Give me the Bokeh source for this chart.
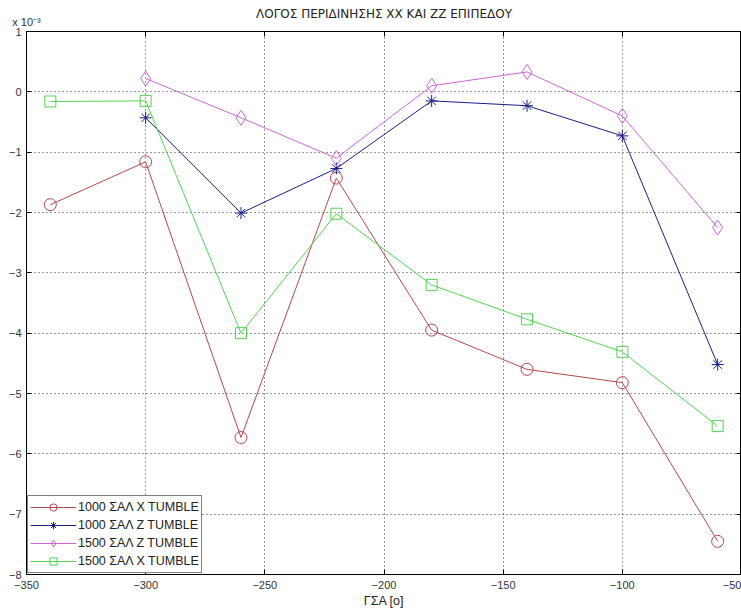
from bokeh.plotting import figure
from bokeh.models import FixedTicker, Legend, LegendItem, LinearAxis
from bokeh.embed import file_html
from bokeh.resources import INLINE

# Crank angle positions [deg] and tumble ratios (in units of 1e-3)
gsa = [-340, -300, -260, -220, -180, -140, -100, -60]
x_1000 = [-1.87, -1.16, -5.73, -1.43, -3.95, -4.60, -4.82, -7.45]
z_1000 = [None, -0.43, -2.01, -1.27, -0.15, -0.23, -0.73, -4.52]
z_1500 = [None, 0.22, -0.43, -1.10, 0.10, 0.33, -0.40, -2.25]
x_1500 = [-0.16, -0.15, -4.00, -2.02, -3.20, -3.77, -4.31, -5.54]

x_ticks = [-350, -300, -250, -200, -150, -100, -50]
y_ticks = [-8, -7, -6, -5, -4, -3, -2, -1, 0, 1]

FONT = "Liberation Sans"

p = figure(width=741, height=612, output_backend="svg", toolbar_location=None,
           x_range=(-350, -50), y_range=(-8, 1),
           min_border_left=26, min_border_right=0, min_border_top=31,
           min_border_bottom=38, background_fill_color="white",
           border_fill_color="white")

p.title.text = "ΛΟΓΟΣ ΠΕΡΙΔΙΝΗΣΗΣ ΧΧ ΚΑΙ ΖΖ ΕΠΙΠΕΔΟΥ"
p.title.align = "center"
p.title.text_font = "DejaVu Sans"
p.title.text_font_size = "12px"
p.title.text_font_style = "normal"
p.title.text_color = "#222222"
p.title.standoff = -17

p.outline_line_color = "black"
p.outline_line_width = 1

# box axes on top and right: inward ticks only, no tick labels;
# the top one carries the exponent note of the y values
top_axis = LinearAxis(ticker=FixedTicker(ticks=x_ticks))
right_axis = LinearAxis(ticker=FixedTicker(ticks=y_ticks))
for ax in (top_axis, right_axis):
    ax.major_label_text_font_size = "1px"
    ax.major_label_text_color = None
    ax.major_label_standoff = 0
top_axis.axis_label = "x 10⁻³"
top_axis.axis_label_align = "start"
top_axis.axis_label_standoff = 4
top_axis.axis_label_text_font = FONT
top_axis.axis_label_text_font_size = "11px"
top_axis.axis_label_text_font_style = "normal"
top_axis.axis_label_text_color = "#333333"
p.add_layout(top_axis, "above")
p.add_layout(right_axis, "right")

for ax in p.axis:
    ax.major_tick_in = 5
    ax.major_tick_out = 0
    ax.minor_tick_in = 0
    ax.minor_tick_out = 0
    ax.axis_line_color = "black"
    ax.major_tick_line_color = "black"
    ax.major_label_text_font = FONT

for ax in (p.below[0], p.left[0]):
    ax.major_label_text_font_size = "11px"
    ax.major_label_text_color = "#333333"

p.below[0].ticker = FixedTicker(ticks=x_ticks)
p.left[0].ticker = FixedTicker(ticks=y_ticks)
p.below[0].major_label_standoff = 6
p.left[0].major_label_standoff = 5
p.below[0].axis_label = "ΓΣΑ [o]"
p.below[0].axis_label_text_font = FONT
p.below[0].axis_label_text_font_size = "12.5px"
p.below[0].axis_label_text_font_style = "normal"
p.below[0].axis_label_text_color = "#222222"
p.below[0].axis_label_standoff = 2

p.grid.grid_line_color = "black"
p.grid.grid_line_dash = "1 3"
p.grid.grid_line_alpha = 0.8

series = [
    ("1000 ΣΑΛ X TUMBLE", x_1000, "#b5474a", "circle", 12),
    ("1000 ΣΑΛ Z TUMBLE", z_1000, "#1c1c8a", "asterisk", 12),
    ("1500 ΣΑΛ Z TUMBLE", z_1500, "#cc66d6", "diamond", 15),
    ("1500 ΣΑΛ X TUMBLE", x_1500, "#4fd64f", "square", 11),
]

items = []
for name, vals, color, marker, size in series:
    xs = [g for g, v in zip(gsa, vals) if v is not None]
    ys = [v for v in vals if v is not None]
    ln = p.line(xs, ys, line_color=color, line_width=1)
    sc = p.scatter(xs, ys, marker=marker, size=size,
                   line_color=color, fill_color=None, line_width=1)
    items.append(LegendItem(label=name, renderers=[ln, sc]))

legend = Legend(items=items, location="bottom_left")
legend.margin = 1
legend.padding = 2
legend.spacing = 0
legend.glyph_width = 46
legend.glyph_height = 18
legend.label_height = 18
legend.label_standoff = 2
legend.label_text_font = FONT
legend.label_text_font_size = "12.5px"
legend.label_text_color = "#222222"
legend.border_line_color = "black"
legend.border_line_width = 1
legend.background_fill_color = "white"
legend.background_fill_alpha = 1
p.add_layout(legend)

open("out.html", "w").write(file_html(p, INLINE))
